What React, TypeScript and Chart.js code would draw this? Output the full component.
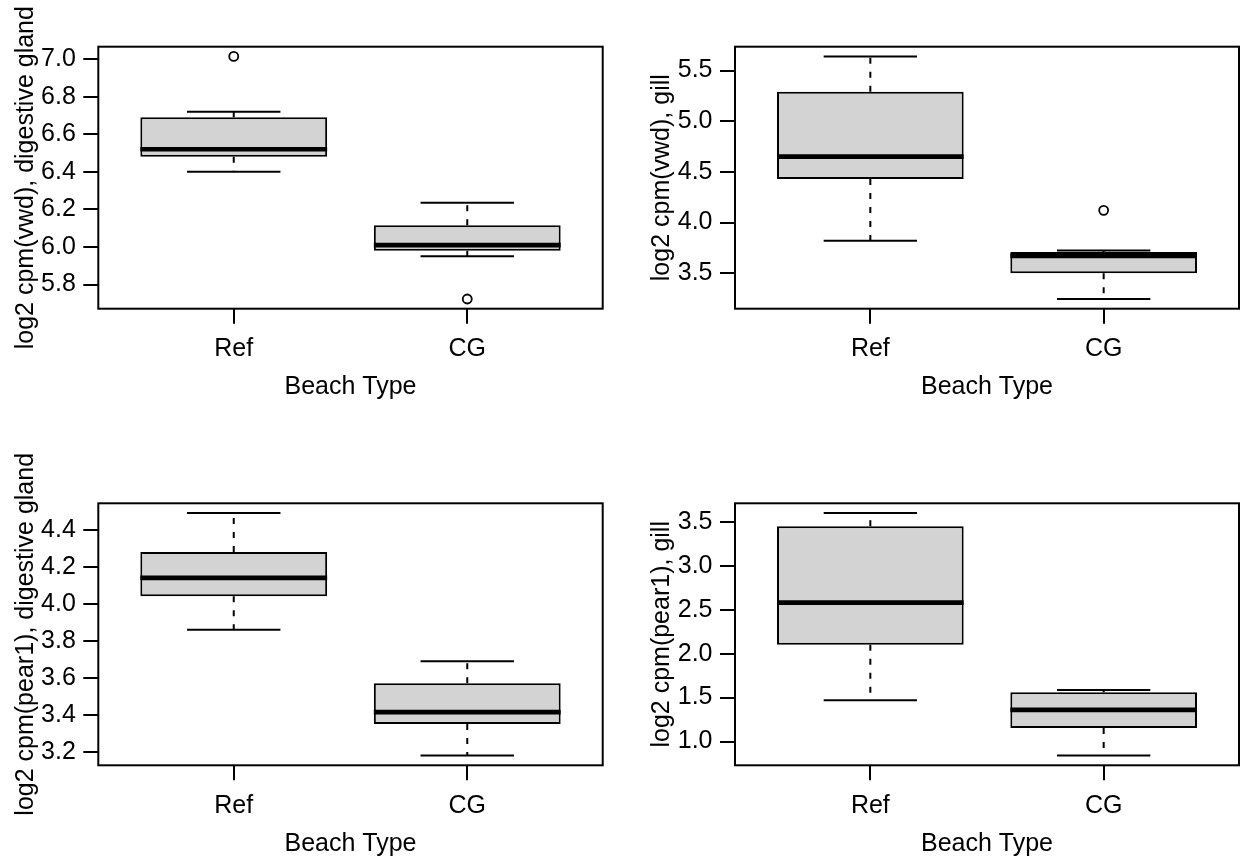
import React, { useEffect, useRef } from "react";
import { Chart, registerables } from "chart.js";

Chart.register(...registerables);

// ---------- data ----------
const CATEGORIES = ["Ref", "CG"];
const X_POSITIONS = [1, 2];
const X_AXIS_TITLE = "Beach Type";

// five-number summaries: [lower whisker, Q1, median, Q3, upper whisker]
const VWD_DIGESTIVE_REF = [6.4, 6.48, 6.52, 6.69, 6.72];
const VWD_DIGESTIVE_CG = [5.95, 5.98, 6.01, 6.115, 6.235];
const VWD_DIGESTIVE_OUT_REF = [7.014];
const VWD_DIGESTIVE_OUT_CG = [5.723];

const VWD_GILL_REF = [3.82, 4.43, 4.65, 5.29, 5.64];
const VWD_GILL_CG = [3.245, 3.5, 3.67, 3.71, 3.725];
const VWD_GILL_OUT_REF: number[] = [];
const VWD_GILL_OUT_CG = [4.12];

const PEAR1_DIGESTIVE_REF = [3.86, 4.04, 4.14, 4.28, 4.49];
const PEAR1_DIGESTIVE_CG = [3.18, 3.35, 3.415, 3.57, 3.69];
const PEAR1_DIGESTIVE_OUT_REF: number[] = [];
const PEAR1_DIGESTIVE_OUT_CG: number[] = [];

const PEAR1_GILL_REF = [1.47, 2.1, 2.58, 3.45, 3.6];
const PEAR1_GILL_CG = [0.84, 1.155, 1.36, 1.56, 1.585];
const PEAR1_GILL_OUT_REF: number[] = [];
const PEAR1_GILL_OUT_CG: number[] = [];

const Y_TITLES = [
  "log2 cpm(vwd), digestive gland",
  "log2 cpm(vwd), gill",
  "log2 cpm(pear1), digestive gland",
  "log2 cpm(pear1), gill",
];
const Y_TICK_STEPS = [0.2, 0.5, 0.2, 0.5];

const PANEL_STATS = [
  [VWD_DIGESTIVE_REF, VWD_DIGESTIVE_CG],
  [VWD_GILL_REF, VWD_GILL_CG],
  [PEAR1_DIGESTIVE_REF, PEAR1_DIGESTIVE_CG],
  [PEAR1_GILL_REF, PEAR1_GILL_CG],
];
const PANEL_OUTLIERS = [
  [VWD_DIGESTIVE_OUT_REF, VWD_DIGESTIVE_OUT_CG],
  [VWD_GILL_OUT_REF, VWD_GILL_OUT_CG],
  [PEAR1_DIGESTIVE_OUT_REF, PEAR1_DIGESTIVE_OUT_CG],
  [PEAR1_GILL_OUT_REF, PEAR1_GILL_OUT_CG],
];

// ---------- layout / style ----------
const GEOM = [
  { left: 0, top: 0, width: 620, height: 431, pl: 98.3, pt: 46.7, pr: 602.7, pb: 308.7 },
  { left: 620, top: 0, width: 621, height: 431, pl: 735, pt: 46.7, pr: 1239, pb: 308.7 },
  { left: 0, top: 431, width: 620, height: 431, pl: 98.3, pt: 503.3, pr: 602.7, pb: 765.3 },
  { left: 620, top: 431, width: 621, height: 431, pl: 735, pt: 503.3, pr: 1239, pb: 765.3 },
];
const FONT_FAMILY = "'Liberation Sans', Arial, Helvetica, sans-serif";
const FONT_SIZE = 25;
const LINE_H = FONT_SIZE * 1.2;
const BOX_WIDTH = 0.8;
const CAP_WIDTH = 0.4;
const LW = 2;
const MEDIAN_LW = 4.7;
const TICK_LEN = 15;
const Y_TICK_PAD = 7.5;
const X_TICK_PAD = 10.5;
const YTITLE_OFFSET = 72.5; // from plot left to title centre
const XTITLE_OFFSET = 78.5; // from plot bottom to title centre

const X_MIN = 0.5 - 0.04 * 2;
const X_MAX = 2.5 + 0.04 * 2;

function makeBoxPlugin(stats: number[][]) {
  return {
    id: "rbox",
    afterDatasetsDraw(chart: any) {
      const { ctx, chartArea } = chart;
      const xs = chart.scales.x;
      const ys = chart.scales.y;
      const seg = (x1: number, y1: number, x2: number, y2: number) => {
        ctx.beginPath();
        ctx.moveTo(x1, y1);
        ctx.lineTo(x2, y2);
        ctx.stroke();
      };
      ctx.save();
      ctx.strokeStyle = "#000";
      ctx.lineCap = "butt";
      stats.forEach((s, i) => {
        const xv = X_POSITIONS[i];
        const cx = xs.getPixelForValue(xv);
        const bl = xs.getPixelForValue(xv - BOX_WIDTH / 2);
        const br = xs.getPixelForValue(xv + BOX_WIDTH / 2);
        const cl = xs.getPixelForValue(xv - CAP_WIDTH / 2);
        const cr = xs.getPixelForValue(xv + CAP_WIDTH / 2);
        const [lo, q1, med, q3, hi] = s.map((v) => ys.getPixelForValue(v));
        ctx.lineWidth = LW;
        ctx.setLineDash([6, 8]);
        seg(cx, q3, cx, hi);
        seg(cx, q1, cx, lo);
        ctx.setLineDash([]);
        seg(cl, hi, cr, hi);
        seg(cl, lo, cr, lo);
        ctx.lineWidth = MEDIAN_LW;
        seg(bl, med, br, med);
      });
      ctx.lineWidth = LW;
      ctx.strokeRect(
        chartArea.left,
        chartArea.top,
        chartArea.right - chartArea.left,
        chartArea.bottom - chartArea.top
      );
      ctx.restore();
    },
  };
}

function BoxPanel({ index }: { index: number }) {
  const ref = useRef<HTMLCanvasElement>(null);
  const g = GEOM[index];
  useEffect(() => {
    const stats = PANEL_STATS[index];
    const outliers = PANEL_OUTLIERS[index];
    const all: number[] = [];
    stats.forEach((s) => all.push(...s));
    outliers.forEach((o) => all.push(...o));
    const lo = Math.min(...all);
    const hi = Math.max(...all);
    const ext = (hi - lo) * 0.04;

    const font = { family: FONT_FAMILY, size: FONT_SIZE, lineHeight: 1.2 };
    const boxData = stats.map((s, i) => ({ x: X_POSITIONS[i], y: [s[1], s[3]] }));
    const outData: { x: number; y: number }[] = [];
    outliers.forEach((o, i) => o.forEach((v) => outData.push({ x: X_POSITIONS[i], y: v })));

    const yScaleWidth = g.pl - g.left;
    const xScaleHeight = g.top + g.height - g.pb;
    const yTitlePad = yScaleWidth - YTITLE_OFFSET - LINE_H / 2;
    const xTitlePad = xScaleHeight - XTITLE_OFFSET - LINE_H / 2;

    const chart = new Chart(ref.current as HTMLCanvasElement, {
      type: "bar",
      data: {
        datasets: [
          {
            type: "bar",
            data: boxData as any,
            backgroundColor: "#d3d3d3",
            borderColor: "#000",
            borderWidth: LW,
            borderSkipped: false,
            barPercentage: BOX_WIDTH,
            categoryPercentage: 1,
            order: 2,
          } as any,
          {
            type: "scatter",
            data: outData as any,
            pointRadius: 4.5,
            pointBorderWidth: 1.8,
            pointBackgroundColor: "rgba(0,0,0,0)",
            pointBorderColor: "#000",
            borderColor: "#000",
            showLine: false,
            order: 1,
          } as any,
        ],
      },
      options: {
        responsive: false,
        animation: false,
        devicePixelRatio: 1,
        events: [],
        layout: {
          autoPadding: false,
          padding: {
            top: g.pt - g.top,
            right: g.left + g.width - g.pr,
            bottom: 0,
            left: 0,
          },
        },
        plugins: {
          legend: { display: false },
          tooltip: { enabled: false },
          title: { display: false },
        },
        scales: {
          x: {
            type: "linear",
            min: X_MIN,
            max: X_MAX,
            offset: false,
            afterBuildTicks: (scale: any) => {
              scale.ticks = X_POSITIONS.map((v) => ({ value: v }));
            },
            afterFit: (scale: any) => {
              scale.height = xScaleHeight;
            },
            ticks: {
              autoSkip: false,
              maxRotation: 0,
              padding: X_TICK_PAD,
              color: "#000",
              font,
              callback: (v: any) => CATEGORIES[X_POSITIONS.indexOf(Number(v))] ?? "",
            },
            grid: {
              offset: false,
              drawOnChartArea: false,
              drawTicks: true,
              tickLength: TICK_LEN,
              tickWidth: LW,
              tickColor: "#000",
              color: "#000",
              lineWidth: LW,
            },
            border: { display: false },
            title: {
              display: true,
              text: X_AXIS_TITLE,
              color: "#000",
              font,
              padding: { top: 0, bottom: xTitlePad },
            },
          },
          y: {
            type: "linear",
            min: lo - ext,
            max: hi + ext,
            beginAtZero: false,
            afterFit: (scale: any) => {
              scale.width = yScaleWidth;
            },
            ticks: {
              stepSize: Y_TICK_STEPS[index],
              includeBounds: false,
              autoSkip: false,
              padding: Y_TICK_PAD,
              color: "#000",
              font,
              callback: (v: any) => Number(v).toFixed(1),
            },
            grid: {
              drawOnChartArea: false,
              drawTicks: true,
              tickLength: TICK_LEN,
              tickWidth: LW,
              tickColor: "#000",
              color: "#000",
              lineWidth: LW,
            },
            border: { display: false },
            title: {
              display: true,
              text: Y_TITLES[index],
              color: "#000",
              font,
              padding: { top: yTitlePad, bottom: 0 },
            },
          },
        },
      } as any,
      plugins: [makeBoxPlugin(stats)],
    });
    return () => chart.destroy();
  }, [index]);

  return (
    <canvas
      ref={ref}
      width={g.width}
      height={g.height}
      style={{
        position: "absolute",
        left: g.left,
        top: g.top,
        width: g.width,
        height: g.height,
        display: "block",
      }}
    />
  );
}

export default function App() {
  return (
    <div
      style={{
        position: "absolute",
        left: 0,
        top: 0,
        width: 1241,
        height: 862,
        background: "#fff",
        overflow: "hidden",
      }}
    >
      {[0, 1, 2, 3].map((i) => (
        <BoxPanel key={i} index={i} />
      ))}
    </div>
  );
}
